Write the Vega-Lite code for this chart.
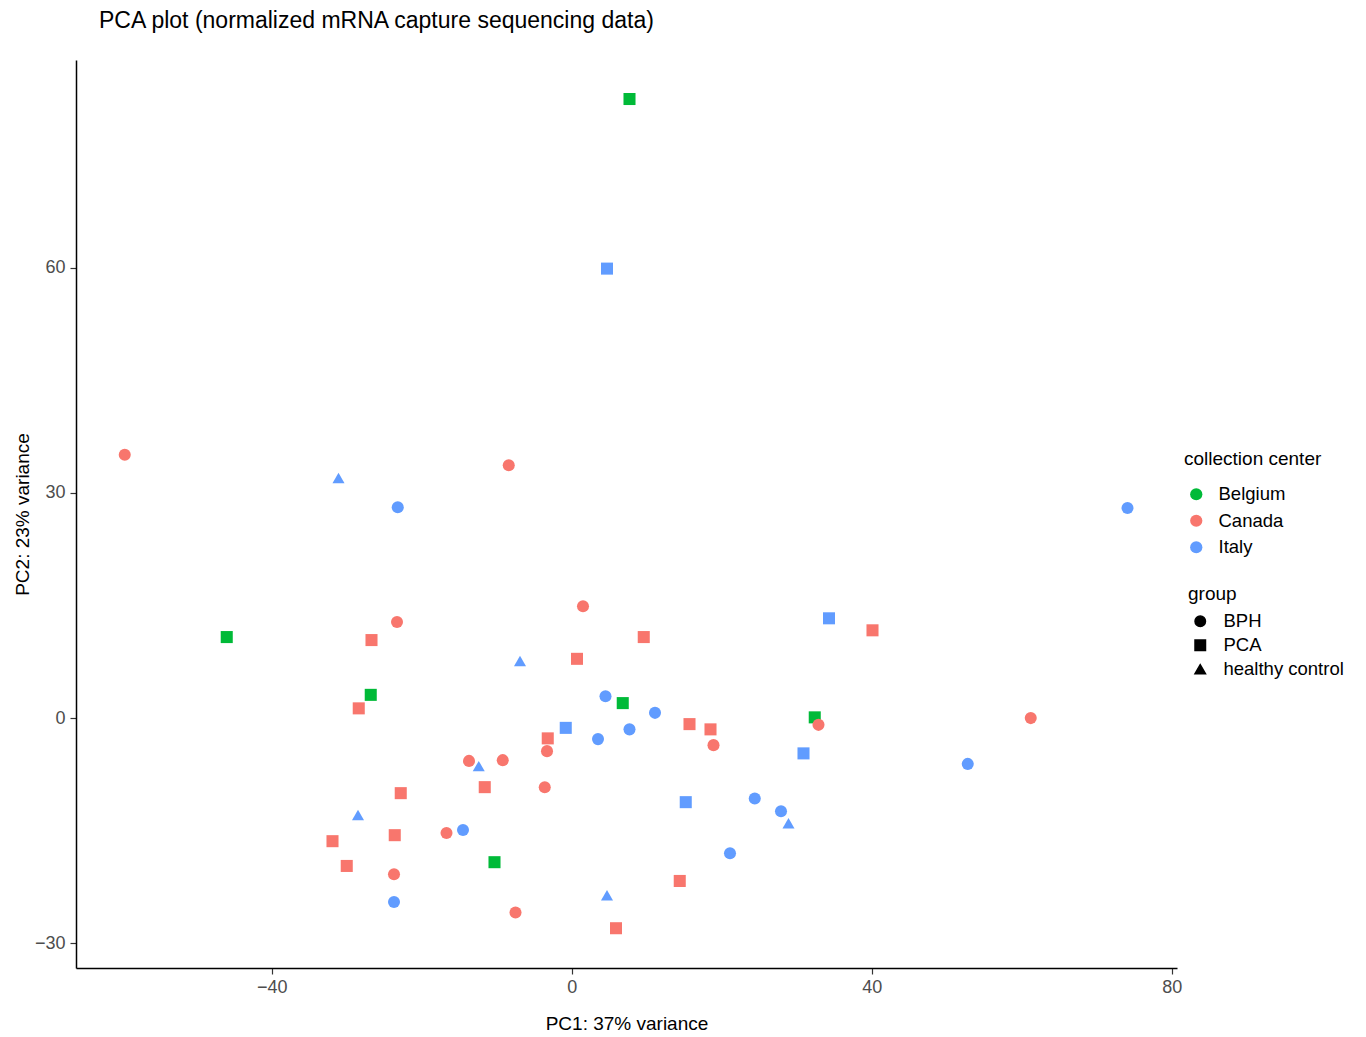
{
  "$schema": "https://vega.github.io/schema/vega-lite/v6.json",
  "autosize": "none",
  "width": 1101,
  "height": 908,
  "padding": {"left": 76, "top": 60, "right": 189, "bottom": 69},
  "background": "white",
  "config": {
    "font": "Liberation Sans",
    "view": {"stroke": null},
    "axis": {
      "grid": false,
      "domainColor": "black",
      "domainWidth": 1.5,
      "tickColor": "#333333",
      "tickSize": 6,
      "tickWidth": 1.2,
      "labelColor": "#4D4D4D",
      "labelFontSize": 18,
      "titleFontSize": 19,
      "titleFontWeight": "normal",
      "titleColor": "black"
    },
    "legend": {
      "titleFontSize": 19,
      "titleFontWeight": "normal",
      "titleColor": "black",
      "labelFontSize": 18.5,
      "labelColor": "black"
    }
  },
  "title": {
    "text": "PCA plot (normalized mRNA capture sequencing data)",
    "anchor": "start",
    "frame": "group",
    "dx": 23,
    "fontSize": 23,
    "fontWeight": "normal",
    "color": "black",
    "offset": 27
  },
  "data": {
    "values": [
      {"PC1": 7.7, "PC2": 82.5, "center": "Belgium", "group": "PCA"},
      {"PC1": -46.0, "PC2": 10.8, "center": "Belgium", "group": "PCA"},
      {"PC1": -26.8, "PC2": 3.1, "center": "Belgium", "group": "PCA"},
      {"PC1": 6.8, "PC2": 2.0, "center": "Belgium", "group": "PCA"},
      {"PC1": 32.4, "PC2": 0.1, "center": "Belgium", "group": "PCA"},
      {"PC1": -10.3, "PC2": -19.2, "center": "Belgium", "group": "PCA"},
      {"PC1": 4.7, "PC2": 59.9, "center": "Italy", "group": "PCA"},
      {"PC1": -31.1, "PC2": 32.0, "center": "Italy", "group": "healthy control"},
      {"PC1": -23.2, "PC2": 28.1, "center": "Italy", "group": "BPH"},
      {"PC1": 74.1, "PC2": 28.0, "center": "Italy", "group": "BPH"},
      {"PC1": 34.3, "PC2": 13.3, "center": "Italy", "group": "PCA"},
      {"PC1": -6.9, "PC2": 7.6, "center": "Italy", "group": "healthy control"},
      {"PC1": 4.5, "PC2": 2.9, "center": "Italy", "group": "BPH"},
      {"PC1": 11.1, "PC2": 0.7, "center": "Italy", "group": "BPH"},
      {"PC1": 7.7, "PC2": -1.5, "center": "Italy", "group": "BPH"},
      {"PC1": 3.5, "PC2": -2.8, "center": "Italy", "group": "BPH"},
      {"PC1": -0.8, "PC2": -1.3, "center": "Italy", "group": "PCA"},
      {"PC1": 30.9, "PC2": -4.7, "center": "Italy", "group": "PCA"},
      {"PC1": 52.8, "PC2": -6.1, "center": "Italy", "group": "BPH"},
      {"PC1": -12.4, "PC2": -6.4, "center": "Italy", "group": "healthy control"},
      {"PC1": 15.2, "PC2": -11.2, "center": "Italy", "group": "PCA"},
      {"PC1": 24.4, "PC2": -10.7, "center": "Italy", "group": "BPH"},
      {"PC1": 27.9, "PC2": -12.4, "center": "Italy", "group": "BPH"},
      {"PC1": 28.9, "PC2": -14.0, "center": "Italy", "group": "healthy control"},
      {"PC1": -28.5, "PC2": -12.9, "center": "Italy", "group": "healthy control"},
      {"PC1": -14.5, "PC2": -14.9, "center": "Italy", "group": "BPH"},
      {"PC1": 21.1, "PC2": -18.0, "center": "Italy", "group": "BPH"},
      {"PC1": 4.7, "PC2": -23.6, "center": "Italy", "group": "healthy control"},
      {"PC1": -23.7, "PC2": -24.5, "center": "Italy", "group": "BPH"},
      {"PC1": -59.6, "PC2": 35.1, "center": "Canada", "group": "BPH"},
      {"PC1": -8.4, "PC2": 33.7, "center": "Canada", "group": "BPH"},
      {"PC1": 1.5, "PC2": 14.9, "center": "Canada", "group": "BPH"},
      {"PC1": -23.3, "PC2": 12.8, "center": "Canada", "group": "BPH"},
      {"PC1": -26.7, "PC2": 10.4, "center": "Canada", "group": "PCA"},
      {"PC1": 9.6, "PC2": 10.8, "center": "Canada", "group": "PCA"},
      {"PC1": 40.1, "PC2": 11.7, "center": "Canada", "group": "PCA"},
      {"PC1": 0.7, "PC2": 7.9, "center": "Canada", "group": "PCA"},
      {"PC1": -28.4, "PC2": 1.3, "center": "Canada", "group": "PCA"},
      {"PC1": 61.2, "PC2": 0.0, "center": "Canada", "group": "BPH"},
      {"PC1": 32.9, "PC2": -0.9, "center": "Canada", "group": "BPH"},
      {"PC1": 15.7, "PC2": -0.8, "center": "Canada", "group": "PCA"},
      {"PC1": 18.5, "PC2": -1.5, "center": "Canada", "group": "PCA"},
      {"PC1": -3.2, "PC2": -2.7, "center": "Canada", "group": "PCA"},
      {"PC1": 18.9, "PC2": -3.6, "center": "Canada", "group": "BPH"},
      {"PC1": -3.3, "PC2": -4.4, "center": "Canada", "group": "BPH"},
      {"PC1": -13.7, "PC2": -5.7, "center": "Canada", "group": "BPH"},
      {"PC1": -9.2, "PC2": -5.6, "center": "Canada", "group": "BPH"},
      {"PC1": -3.6, "PC2": -9.2, "center": "Canada", "group": "BPH"},
      {"PC1": -11.6, "PC2": -9.2, "center": "Canada", "group": "PCA"},
      {"PC1": -22.8, "PC2": -10.0, "center": "Canada", "group": "PCA"},
      {"PC1": -23.6, "PC2": -15.6, "center": "Canada", "group": "PCA"},
      {"PC1": -16.7, "PC2": -15.3, "center": "Canada", "group": "BPH"},
      {"PC1": -31.9, "PC2": -16.4, "center": "Canada", "group": "PCA"},
      {"PC1": -30.0, "PC2": -19.7, "center": "Canada", "group": "PCA"},
      {"PC1": -23.7, "PC2": -20.8, "center": "Canada", "group": "BPH"},
      {"PC1": 14.4, "PC2": -21.7, "center": "Canada", "group": "PCA"},
      {"PC1": -7.5, "PC2": -25.9, "center": "Canada", "group": "BPH"},
      {"PC1": 5.9, "PC2": -28.0, "center": "Canada", "group": "PCA"}
    ]
  },
  "mark": {"type": "point", "filled": true, "opacity": 1, "size": 145},
  "encoding": {
    "x": {
      "field": "PC1",
      "type": "quantitative",
      "scale": {"domain": [-66.1, 80.7], "nice": false, "zero": false},
      "axis": {"values": [-40, 0, 40, 80], "title": "PC1: 37% variance", "labelPadding": 4, "titlePadding": 18}
    },
    "y": {
      "field": "PC2",
      "type": "quantitative",
      "scale": {"domain": [-33.3, 87.7], "nice": false, "zero": false},
      "axis": {"values": [-30, 0, 30, 60], "title": "PC2: 23% variance", "labelPadding": 5, "titlePadding": 2}
    },
    "color": {
      "field": "center",
      "type": "nominal",
      "title": "collection center",
      "scale": {"domain": ["Belgium", "Canada", "Italy"], "range": ["#00BA38", "#F8766D", "#619CFF"]},
      "legend": {"orient": "none", "legendX": 1108, "legendY": 390, "symbolType": "circle", "symbolSize": 150, "rowPadding": 7.5, "titlePadding": 16, "symbolOffset": 3, "labelOffset": 13}
    },
    "shape": {
      "field": "group",
      "type": "nominal",
      "title": "group",
      "scale": {"domain": ["BPH", "PCA", "healthy control"], "range": ["circle", "square", "triangle-up"]},
      "legend": {"orient": "none", "legendX": 1112, "legendY": 525, "symbolFillColor": "black", "symbolStrokeColor": "black", "symbolSize": 110, "rowPadding": 5, "titlePadding": 8, "symbolOffset": 3, "labelOffset": 14}
    }
  }
}
